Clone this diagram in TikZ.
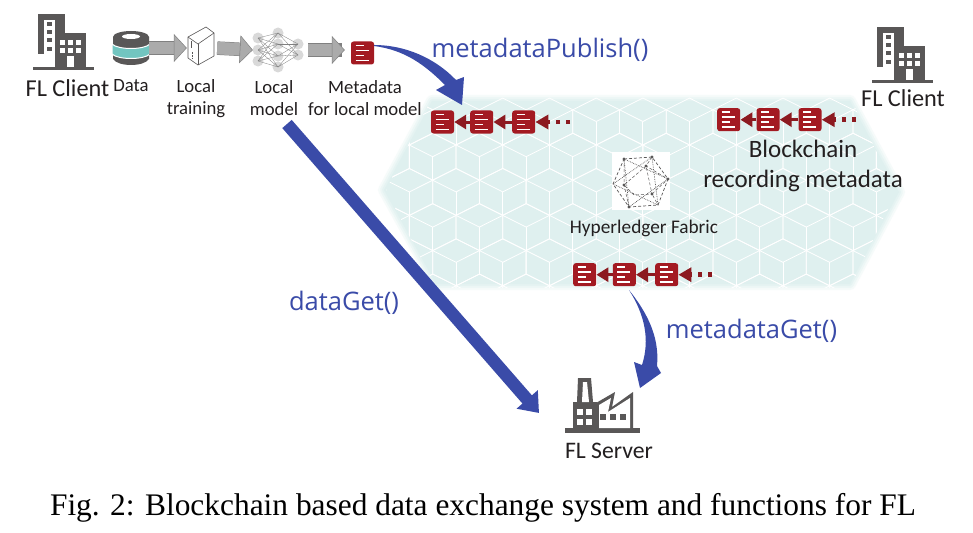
\documentclass[tikz,border=0pt]{standalone}
\usepackage{fontspec}
\setmainfont{Carlito}
\newfontfamily\capfont{Liberation Serif}
\newfontfamily\callfont{Open Sans}
\usepackage{xcolor}
\usetikzlibrary{arrows.meta}

\definecolor{icongray}{HTML}{595757}
\definecolor{bandteal}{HTML}{DFF0EF}
\definecolor{linkblue}{HTML}{3A4BA8}
\definecolor{blockred}{HTML}{A31A22}
\definecolor{chainred}{HTML}{8C1A20}
\definecolor{arrowgray}{HTML}{ABABAB}
\definecolor{textgray}{HTML}{231F20}
\definecolor{diskteal}{HTML}{72C5C0}

\tikzset{
	iconspot/.style={inner sep=0pt,minimum width=#1},
	iconlabel/.style={text=textgray,align=center,font=\fontsize{18.7}{22}\selectfont,inner sep=0pt},
	bigname/.style={text=textgray,align=center,font=\fontsize{24.3}{24}\selectfont,inner sep=0pt},
	calltext/.style={text=linkblue,font=\callfont\fontsize{25.5}{26}\selectfont,inner sep=0pt},
	metablock/.style={fill=blockred,rounded corners=2.5pt,minimum size=23pt,inner sep=0pt,
		path picture={
			\begin{scope}[shift={(path picture bounding box.center)},white,line width=1.6pt]
				\draw (-7,-7.5) -- (1,-7.5);
				\draw (-7,-2.5) -- (6,-2.5);
				\draw (-7,2.5) -- (1,2.5);
				\draw (-7,7.5) -- (6,7.5);
			\end{scope}
		}},
	chainlink/.style={chainred,line width=3pt,-{Triangle[length=12pt,width=14pt]}},
	chaintail/.style={chainred,line width=4.5pt,dash pattern=on 4.5pt off 5.5pt,-{Triangle[length=13pt,width=14pt]}},
	grayarrow/.style={arrowgray,line width=12.5pt,
		preaction={draw=gray,line width=13.5pt,shorten >=9pt,arrows=-},
		-{Triangle[length=13pt,width=28pt,fill=arrowgray,color=gray,line width=.5pt]}},
	pics/flbuilding/.style={code={
		\fill[icongray] (0,0) rectangle (27,40);
		\fill[white] (6,6) rectangle (17,40);
		\fill[icongray] (17,19) rectangle (48,53);
		\fill[icongray] (-5,53) -- (56,53) -- (56,56) -- (-5,56) -- cycle;
		\foreach \y in {8,16,24,33} {
			\fill[icongray] (9,\y) rectangle +(4.5,4.5);
		}
		\foreach \x in {22,30,38} {
			\foreach \y in {26,34} {
				\fill[white] (\x,\y) rectangle +(5,5);
			}
		}
		\fill[white] (29,42) rectangle (36,53);
	}},
}

\begin{document}
\begin{tikzpicture}[x=1pt,y=-1pt]
	\useasboundingbox (0,0) rectangle (973,532);
	\fill[white] (0,0) rectangle (973,532);

	% band with the cubes
	\foreach \w/\o in {12/.25,8/.35,4/.5} {
		\draw[bandteal,line width=\w pt,line join=round,opacity=\o] (432,101) -- (850,101) -- (899,192) -- (850,284) -- (436,284) -- (384,190) -- cycle;
	}
	\fill[bandteal] (432,101) -- (850,101) -- (899,192) -- (850,284) -- (436,284) -- (384,190) -- cycle;
	\begin{scope}
		\clip (432,97) -- (850,97) -- (896,192) -- (850,288) -- (436,288) -- (386,190) -- cycle;
		\foreach \j in {-1,0,...,4} {
			\foreach \i in {-1,0,...,11} {
				\pgfmathsetmacro{\cx}{432.7+\i*46.7+mod(abs(\j),2)*23.35}
				\pgfmathsetmacro{\cy}{156.7+\j*35.2}
				\begin{scope}[shift={(\cx,\cy)},white,line width=.8pt]
					\draw (0,-23.4) -- (23.35,-11.7) -- (23.35,11.7) -- (0,23.4) -- (-23.35,11.7) -- (-23.35,-11.7) -- cycle;
					\draw (-23.35,-11.7) -- (0,0) -- (23.35,-11.7);
					\draw (0,0) -- (0,23.4);
				\end{scope}
			}
		}
	\end{scope}

	% client on the left
	\pic at (38,14) {flbuilding};
	\node[bigname] (clienta) at (67.5,88) {FL Client};
	\node[bigname] (clientb) at (903,98) {FL Client};
	\pic at (877,27) {flbuilding};

	% data
	\node[iconspot=36pt,minimum height=34pt] (data) at (131,48) {};
	\fill[icongray] (113,37) -- (113,59) .. controls (118,67) and (144,67) .. (149,59) -- (149,37) -- cycle;
	\fill[icongray] (131,37) ellipse (18 and 6);
	\fill[white] (131,36.5) ellipse (9 and 2.5);
	\fill[diskteal,draw=white,line width=1pt] (112,44) .. controls (118,50) and (144,50) .. (150,44) -- (150,54) .. controls (144,60) and (118,60) .. (112,54) -- cycle;
	\node[iconlabel] (datalabel) at (131,86) {Data};

	% training box
	\node[iconspot=28pt,minimum height=34pt] (train) at (201,48) {};
	\draw[icongray,line width=.6pt,line join=round] (188,37) -- (206,27) -- (214,33) -- (214,56) -- (198,65) -- (188,58) -- cycle;
	\draw[icongray,line width=.6pt] (188,37) -- (198,44) -- (214,33);
	\draw[icongray,line width=.6pt] (198,44) -- (198,65);
	\draw[icongray,line width=.6pt] (191,41) -- (191,48);
	\draw[icongray,densely dotted] (192,52) -- (192,58);
	\node[iconlabel] (trainlabel) at (196,99) {Local\\training};

	% network
	\node[iconspot=51pt,minimum height=42pt] (net) at (278.5,50) {};
	\foreach \ya in {38,50,61} {
		\fill[gray!30] (258,\ya) circle (5.5);
	}
	\foreach \ya in {33,44,56,67} {
		\fill[gray!30] (278,\ya) circle (5.5);
	}
	\foreach \ya in {44,55} {
		\fill[gray!30] (298,\ya) circle (5.5);
	}
	\foreach \ya in {38,50,61} {
		\foreach \yb in {33,44,56,67} {
			\draw[gray,line width=.3pt] (258,\ya) -- (278,\yb);
		}
	}
	\foreach \ya in {33,44,56,67} {
		\foreach \yb in {44,55} {
			\draw[gray,line width=.3pt] (278,\ya) -- (298,\yb);
		}
	}
	\node[iconlabel] (netlabel) at (274,98) {Local\\model};

	% metadata
	\node[metablock] (meta) at (362.5,53) {};
	\node[iconlabel] (metalabel) at (365,98) {Metadata\\for local model};

	\draw[grayarrow] (data.east) -- (train.west);
	\draw[grayarrow,shorten <=2pt] (train.east) -- (net.west);
	\draw[grayarrow,shorten <=4pt,shorten >=6pt] (net.east) -- (net.east -| meta.west);

	% first chain
	\node[metablock] (aone) at (442.5,122) {};
	\node[metablock] (atwo) at (481.7,122) {};
	\node[metablock] (athree) at (523.7,122) {};
	\coordinate (atail) at (570,122);
	\draw[chainlink] (atwo) -- (aone);
	\draw[chainlink] (athree) -- (atwo);
	\draw[chaintail] (atail) -- (athree);

	% second chain
	\node[metablock] (bone) at (728.7,119.7) {};
	\node[metablock] (btwo) at (768,119.7) {};
	\node[metablock] (bthree) at (810,119.7) {};
	\coordinate (btail) at (856,119.7);
	\draw[chainlink] (btwo) -- (bone);
	\draw[chainlink] (bthree) -- (btwo);
	\draw[chaintail] (btail) -- (bthree);

	% third chain
	\node[metablock] (cone) at (584.7,274.7) {};
	\node[metablock] (ctwo) at (624.3,274.7) {};
	\node[metablock] (cthree) at (666.7,274.7) {};
	\coordinate (ctail) at (712,274.7);
	\draw[chainlink] (ctwo) -- (cone);
	\draw[chainlink] (cthree) -- (ctwo);
	\draw[chaintail] (ctail) -- (cthree);

	\node[iconlabel,font=\fontsize{25}{30}\selectfont] (chainlabel) at (803,166) {Blockchain\\recording metadata};

	% fabric logo
	\fill[white] (612,152) rectangle (670,210);
	\draw[icongray,densely dashed,line width=.7pt] (624,159) -- (652,157) -- (668,179) -- (658,205) -- (629,207) -- (613,184) -- cycle;
	\draw[icongray,densely dotted,line width=.7pt] (624,159) -- (668,179) -- (629,207) -- (624,159);
	\draw[icongray,densely dotted,line width=.7pt] (652,157) -- (613,184) -- (658,205) -- (652,157);
	\draw[icongray,densely dashed,line width=.5pt] (646,166) -- (624,185) -- (634,195) -- (652,194) -- (646,166);
	\draw[icongray,densely dashed,line width=.5pt] (624,159) -- (624,185) -- (629,207);
	\draw[icongray,densely dashed,line width=.5pt] (652,157) -- (646,166) -- (668,179) -- (652,194) -- (658,205);
	\foreach \x/\y in {624/159,652/157,668/179,629/207,646/166,624/185,652/194} {
		\fill[icongray] (\x,\y) circle (1.6);
	}
	\node[iconlabel,font=\fontsize{19.3}{20}\selectfont] (fabriclabel) at (644,228) {Hyperledger Fabric};

	% server
	\node[iconspot=75pt,minimum height=55pt] (factory) at (602.5,405.5) {};
	\fill[icongray] (565,428) rectangle (640,433);
	\fill[icongray] (577,402) -- (578,378) -- (591,378) -- (593,402) -- (597,402) -- (597,430) -- (573,430) -- (573,402) -- cycle;
	\fill[white] (582,402) -- (583,382) -- (587,382) -- (589,402) -- cycle;
	\foreach \x in {577,586} {
		\foreach \y in {409,419} {
			\fill[white] (\x,\y) rectangle +(5.5,5.5);
		}
	}
	\fill[icongray] (596,403) -- (615,392) -- (612,407) -- (633,392) -- (633,430) -- (596,430) -- cycle;
	\fill[white] (599,405) -- (611,398) -- (608,412) -- (630,398) -- (630,428) -- (599,428) -- cycle;
	\foreach \x in {600,610,620} {
		\fill[icongray] (\x,414) rectangle +(5.5,5.5);
	}
	\node[bigname,font=\fontsize{23.7}{24}\selectfont] (serverlabel) at (609,451) {FL Server};

	% calls
	\coordinate (pubend) at (462,105);
	\coordinate (getstart) at (629,290);
	\coordinate (getend) at (640,388);
	\coordinate (dataout) at (287,124);
	\coordinate (datain) at (539,413);
	\fill[linkblue] (meta.east) ++(0,-8) .. controls (405,45) and (435,58) .. (456,80) -- (464,77) -- (pubend) -- (436,90) -- (445,85) .. controls (425,65) and (405,50) .. (374,46) -- cycle;
	\fill[linkblue] (getstart) .. controls (645,310) and (660,335) .. (657,366) -- (661,373) -- (getend) -- (634,362) -- (642,365) .. controls (650,340) and (645,315) .. (getstart) -- cycle;
	\draw[linkblue,line width=12.5pt,-{Triangle[length=18pt,width=27pt]}] (dataout) -- (datain);

	\node[calltext] (publabel) at (540,50) {metadataPublish()};
	\node[calltext] (datalabelb) at (344,303) {dataGet()};
	\node[calltext] (getlabel) at (751.5,331) {metadataGet()};

	\node[inner sep=0pt,text=black,font=\capfont\fontsize{31.4}{32}\selectfont] (caption) at (483,507.5) {Fig. 2: Blockchain based data exchange system and functions for FL};
\end{tikzpicture}
\end{document}
